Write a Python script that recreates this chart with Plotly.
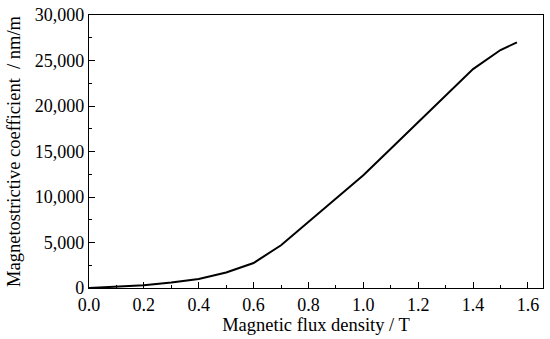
import plotly.graph_objects as go

flux_density = [0.0, 0.1, 0.2, 0.3, 0.4, 0.5, 0.6, 0.7, 0.8, 0.9, 1.0, 1.1, 1.2, 1.3, 1.4, 1.5, 1.56]
magnetostriction = [0, 110, 300, 600, 1000, 1700, 2750, 4700, 7300, 9900, 12400, 15300, 18200, 21050, 24050, 26150, 27000]

x_ticks = [0.0, 0.2, 0.4, 0.6, 0.8, 1.0, 1.2, 1.4, 1.6]
y_ticks = [0, 5000, 10000, 15000, 20000, 25000, 30000]

tick_font = dict(family="Liberation Serif, Times New Roman, serif", size=18, color="black")
title_font = dict(family="Liberation Serif, Times New Roman, serif", size=18.5, color="black")

fig = go.Figure()
fig.add_trace(go.Scatter(x=flux_density, y=magnetostriction, mode="lines",
                         line=dict(color="black", width=2), showlegend=False))

axis_common = dict(showline=True, linecolor="black", linewidth=1.2, mirror=True,
                   ticks="inside", tickcolor="black", tickwidth=1.2, ticklen=6,
                   showgrid=False, zeroline=False, tickfont=tick_font, automargin=False,
                   ticklabeloverflow="allow")

fig.update_xaxes(range=[0, 1.655], tickvals=x_ticks, tickformat=".1f",
                 minor=dict(dtick=0.1, ticks="inside", ticklen=3, tickcolor="black", tickwidth=1.2),
                 title=dict(text="Magnetic flux density / T", font=title_font, standoff=0),
                 **axis_common)
fig.update_yaxes(range=[0, 30000], tickvals=y_ticks, tickformat=",.0f",
                 minor=dict(dtick=2500, ticks="inside", ticklen=3, tickcolor="black", tickwidth=1.2),
                 title=dict(text="Magnetostrictive coefficient  / nm/m", font=title_font, standoff=9),
                 **axis_common)

fig.update_layout(width=550, height=339, margin=dict(l=89, r=7, t=15, b=51),
                  plot_bgcolor="white", paper_bgcolor="white", font=tick_font)

# remove the page's default 8px body margin so the figure sits at the window origin
fig.write_html("out.html", config={"displayModeBar": False},
               post_script="document.body.style.margin='0';")
